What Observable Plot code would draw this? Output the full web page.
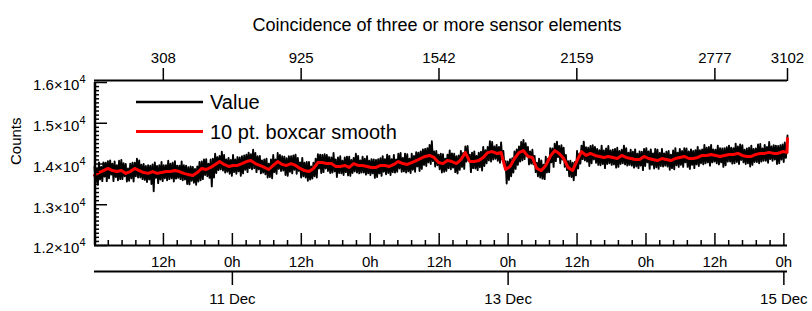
<!DOCTYPE html>
<html><head><meta charset="utf-8">
<script src="https://cdn.jsdelivr.net/npm/d3@7"></script>
<script src="https://cdn.jsdelivr.net/npm/@observablehq/plot@0.6"></script>
<style>body{margin:0;background:#fff}</style>
</head><body><div id="chart"></div>
<script>
const chartTitle = "Coincidence of three or more sensor elements";
const yLabel = "Counts";
const seriesNames = ["Value", "10 pt. boxcar smooth"];
const startTime = "2000-12-10T00:00:00Z";
const sampleSeconds = 140;
const lastIndex = 3102;
const valueStep = 5;
const smoothStep = 20;

const valueCounts = [
13930,13540,13880,13490, 14040,13620,13930,13580, 14040,13690,14030,13580, 14070,13650,14090,13740,
14010,13580,14060,13680, 13970,13600,14080,13630, 14100,13630,14020,13700, 14000,13570,13890,13590,
14010,13650,14030,13570, 14030,13700,14130,13670, 14090,13670,13980,13630, 14000,13610,13950,13560,
13970,13620,13960,13510, 13990,13330,14040,13660, 13950,13530,13970,13620, 14050,13580,13970,13650,
13970,13600,14080,13630, 14010,13650,14030,13570, 14070,13640,13960,13660, 13960,13630,14060,13600,
13970,13620,13960,13510, 13920,13500,13940,13590, 13930,13540,13880,13490, 13940,13570,14050,13600,
14060,13630,14110,13730, 14120,13700,14010,13660, 14110,13450,14130,13670, 14250,13780,14170,13850,
14200,13870,14300,13840, 14220,13790,14110,13810, 14150,13760,14100,13710, 14220,13800,14110,13760,
14170,13820,14160,13710, 14190,13770,14210,13860, 14230,13800,14280,13900, 14240,13870,14350,13900,
14270,13800,14190,13870, 14200,13770,14090,13790, 14110,13750,14130,13670, 14010,13680,14110,13650,
14220,13800,14110,13760, 14270,13880,14220,13830, 14190,13840,14180,13730, 14140,13710,14190,13810,
14190,13770,14210,13860, 14230,13760,14150,13830, 14040,13670,14150,13700, 14030,13670,14050,13590,
14050,13620,13940,13640, 14030,13700,14130,13670, 14240,13890,14230,13780, 14220,13800,14240,13890,
14220,13830,14170,13780, 14160,13790,14270,13820, 14110,13680,14160,13780, 14190,13770,14080,13730,
14160,13800,14180,13720, 14180,13710,14100,13780, 14150,13820,14250,13790, 14200,13770,14090,13790,
14180,13790,14130,13740, 14190,13770,14080,13730, 14120,13770,14110,13660, 14100,13680,14120,13770,
14140,13710,14190,13810, 14120,13750,14230,13780, 14200,13730,14120,13800, 14220,13790,14110,13810,
14250,13890,14270,13810, 14150,13820,14250,13790, 14240,13820,14130,13780, 14250,13860,14200,13810,
14290,13940,14280,13830, 14310,13880,14360,13980, 14370,13950,14390,14040, 14470,14000,14560,14070,
14310,13940,14320,13970, 14230,13870,14250,13790, 14240,13810,14130,13830, 14230,13900,14330,13870,
14260,13910,14250,13800, 14190,13770,14210,13860, 14320,13930,14270,13880, 14430,14060,14440,14090,
14230,13800,14280,13900, 14310,13890,14200,13850, 14280,13920,14300,13840, 14420,13950,14340,14020,
14420,14090,14560,14060, 14540,14110,14430,14130, 14470,14080,14420,14030, 14530,14110,14320,13950,
14070,13520,14060,13610, 14120,13700,14140,13790, 14310,13880,14360,13980, 14430,14060,14540,14090,
14590,14120,14510,14190, 14420,13990,14310,14010, 14350,13990,14200,13800, 14030,13700,14130,13670,
14090,13640,13980,13630, 14180,13790,14130,13800, 14390,14040,14380,13930, 14500,14070,14550,14170,
14440,14020,14460,14110, 14400,13930,14220,13850, 14070,13700,14080,13680, 14030,13600,14050,13720,
14320,13890,14250,14010, 14450,14120,14550,14090, 14410,14060,14400,13950, 14440,14020,14460,14110,
14420,14030,14370,13980, 14340,13970,14450,14000, 14330,13900,14380,14000, 14440,14020,14330,13980,
14350,13990,14370,13910, 14400,13930,14320,14000, 14350,14020,14450,13990, 14390,13960,14280,13980,
14350,13960,14300,13910, 14360,13940,14250,13900, 14310,13960,14300,13850, 14370,13950,14390,14040,
14310,13880,14360,13980, 14260,13890,14370,13920, 14350,13880,14270,13950, 14370,13940,14260,13960,
14300,13940,14320,13860, 14230,13900,14330,13870, 14390,13970,14280,13930, 14370,13980,14320,13930,
14390,14040,14380,13930, 14310,13880,14360,13980, 14320,13900,14340,13990, 14420,13950,14340,14020,
14360,13990,14470,14020, 14400,14040,14420,13960, 14470,14040,14360,14060, 14350,14020,14450,13990,
14390,14040,14380,13930, 14390,13970,14410,14060, 14450,14060,14400,14010, 14390,14020,14500,14050,
14430,14000,14480,14100, 14460,14040,14350,14000, 14380,14020,14400,13940, 14450,13980,14370,14050,
14380,14050,14480,14020, 14490,14060,14380,14080, 14470,14080,14420,14030, 14540,14120,14430,14080,
14460,14110,14450,14000, 14440,14020,14460,14110, 14480,14050,14530,14150,
14480, 14700
];

const smoothCounts = [
13720,13790,13840,13890,13840,13815,13840,13770,13815,13890,13840,13790,13770,13815,13770,13790,
13815,13815,13840,13815,13770,13740,13720,13790,13890,13865,13915,13990,14060,13990,13940,13965,
13965,14010,14060,14085,14010,13965,13915,13865,13965,14060,13990,13965,14010,13965,13890,13840,
13815,13890,14035,14035,14010,14010,13940,13940,13965,13915,14010,13965,13965,13940,13915,13915,
13965,13965,13940,13990,14060,14010,13990,14035,14085,14135,14185,14210,14160,14035,14010,14085,
14060,14010,14110,14280,14060,14060,14085,14160,14280,14305,14260,14280,13865,13940,14135,14280,
14330,14185,14160,13890,13840,13965,14185,14330,14260,14135,13915,13840,14085,14305,14210,14260,
14210,14185,14160,14185,14160,14135,14210,14160,14135,14110,14110,14185,14135,14110,14085,14135,
14110,14085,14135,14160,14185,14135,14135,14160,14210,14210,14235,14210,14185,14210,14235,14235,
14260,14210,14185,14185,14235,14260,14260,14285,14260,14260,14305,14285,
14625
];

const topTickIndex = [308, 925, 1542, 2159, 2777, 3102];
const hourTickTimes = ["2000-12-10T12:00Z","2000-12-11T00:00Z","2000-12-11T12:00Z","2000-12-12T00:00Z","2000-12-12T12:00Z",
  "2000-12-13T00:00Z","2000-12-13T12:00Z","2000-12-14T00:00Z","2000-12-14T12:00Z","2000-12-15T00:00Z"];
const hourTickLabels = ["12h","0h","12h","0h","12h","0h","12h","0h","12h","0h"];
const dateTickTimes = ["2000-12-11T00:00Z","2000-12-13T00:00Z","2000-12-15T00:00Z"];
const dateTickLabels = ["11 Dec","13 Dec","15 Dec"];
const yTickValues = [12000, 13000, 14000, 15000, 16000];
const yTickLabels = ["1.2×10⁴","1.3×10⁴","1.4×10⁴","1.5×10⁴","1.6×10⁴"];

// ---- build tables ----
const t0 = new Date(startTime).getTime();
const stepMs = sampleSeconds * 1000;
const idxTime = i => new Date(t0 + i * stepMs);
const valueData = valueCounts.map((v, i) => ({time: idxTime(i < valueCounts.length - 1 ? i * valueStep : lastIndex), counts: v}));
const smoothData = smoothCounts.map((v, i) => ({time: idxTime(i < smoothCounts.length - 1 ? i * smoothStep : lastIndex), counts: v}));
const topTicks = topTickIndex.map(idxTime);
const topLabel = new Map(topTicks.map((d, i) => [d.getTime(), String(topTickIndex[i])]));
const hourTicks = hourTickTimes.map(s => new Date(s));
const hourLabel = new Map(hourTicks.map((d, i) => [d.getTime(), hourTickLabels[i]]));
const dateTicks = dateTickTimes.map(s => new Date(s));
const dateLabel = new Map(dateTicks.map((d, i) => [d.getTime(), dateTickLabels[i]]));
const yLabelMap = new Map(yTickValues.map((v, i) => [v, yTickLabels[i]]));
const xMinor = d3.range(1, 50).filter(i => i % 5 !== 0).map(i => new Date(t0 + i * 2.4 * 3600e3));
const yMinor = d3.range(12000, 16001, 100).filter(v => v % 1000 !== 0);

const W = 812, H = 311, ML = 94, MR = 25, MT = 82, MB = 66;
const FW = W - ML - MR, FH = H - MT - MB;

const svg = Plot.plot({
  width: W, height: H,
  marginLeft: ML, marginRight: MR, marginTop: MT, marginBottom: MB,
  style: {fontFamily: "'Liberation Sans', Arial, sans-serif", fontSize: "15px", color: "#000", background: "#fff", overflow: "visible"},
  x: {type: "utc", domain: [idxTime(0), idxTime(lastIndex)], axis: null},
  y: {domain: [12000, 16000], axis: null},
  marks: [
    Plot.line(valueData, {x: "time", y: "counts", stroke: "#000", strokeWidth: 1.9}),
    Plot.line(smoothData, {x: "time", y: "counts", stroke: "#ff0000", strokeWidth: 3}),
    Plot.ruleX([idxTime(0)], {strokeWidth: 2.5, dx: 0.5}),
    Plot.ruleY([12000], {strokeWidth: 2}),
    Plot.ruleY([16000], {strokeWidth: 2, dy: -2}),
    Plot.ruleY([12000], {strokeWidth: 2, dy: 26}),
    Plot.tickY(yMinor, {y: d => d, strokeWidth: 1.5, insetRight: FW - 5}),
    Plot.tickY(yTickValues, {y: d => d, strokeWidth: 1.5, insetRight: FW - 13}),
    Plot.tickX(xMinor, {x: d => d, strokeWidth: 1.5, insetTop: FH - 5}),
    Plot.tickX(hourTicks, {x: d => d, strokeWidth: 1.5, insetTop: FH - 12}),
    Plot.axisY({ticks: yTickValues, tickSize: 0, tickPadding: 9, dy: 3, label: null, tickFormat: d => yLabelMap.get(d)}),
    Plot.axisX({anchor: "top", ticks: topTicks, tickSize: 13, tickPadding: 5, dy: -2, strokeWidth: 1.5, label: null, tickFormat: d => topLabel.get(d.getTime())}),
    Plot.axisX({anchor: "bottom", ticks: hourTicks, tickSize: 0, tickPadding: 11, label: null, tickFormat: d => hourLabel.get(d.getTime())}),
    Plot.axisX({anchor: "bottom", ticks: dateTicks, tickSize: 14, tickPadding: 8, dy: 26, strokeWidth: 1.5, label: null, tickFormat: d => dateLabel.get(d.getTime())}),
    Plot.text([chartTitle], {frameAnchor: "top", dy: -64, dx: -4, fontSize: 18}),
    Plot.text([yLabel], {frameAnchor: "left", rotate: -90, dx: -78, dy: 1, fontSize: 15})
  ]
});

// superscript exponent on y tick labels
d3.select(svg).selectAll("text").each(function() {
  const t = this.textContent;
  if (this.childElementCount === 0 && /×10⁴$/.test(t)) {
    this.textContent = t.replace("⁴", "");
    d3.select(this).append("tspan").attr("dy", "-7").attr("font-size", "11").text("4");
  }
});

// legend (inside plot, top-left)
const lg = d3.select(svg).append("g").attr("font-size", 20).attr("fill", "#000").attr("text-anchor", "start");
const legendItems = [{name: seriesNames[0], color: "#000", w: 2.6, y: 102}, {name: seriesNames[1], color: "#ff0000", w: 3, y: 131.5}];
for (const it of legendItems) {
  lg.append("line").attr("x1", 136).attr("x2", 203).attr("y1", it.y).attr("y2", it.y)
    .attr("stroke", it.color).attr("stroke-width", it.w);
  lg.append("text").attr("x", 210).attr("y", it.y).attr("dy", "0.35em").attr("text-anchor", "start").text(it.name);
}

document.getElementById("chart").appendChild(svg);
</script>
</body></html>
